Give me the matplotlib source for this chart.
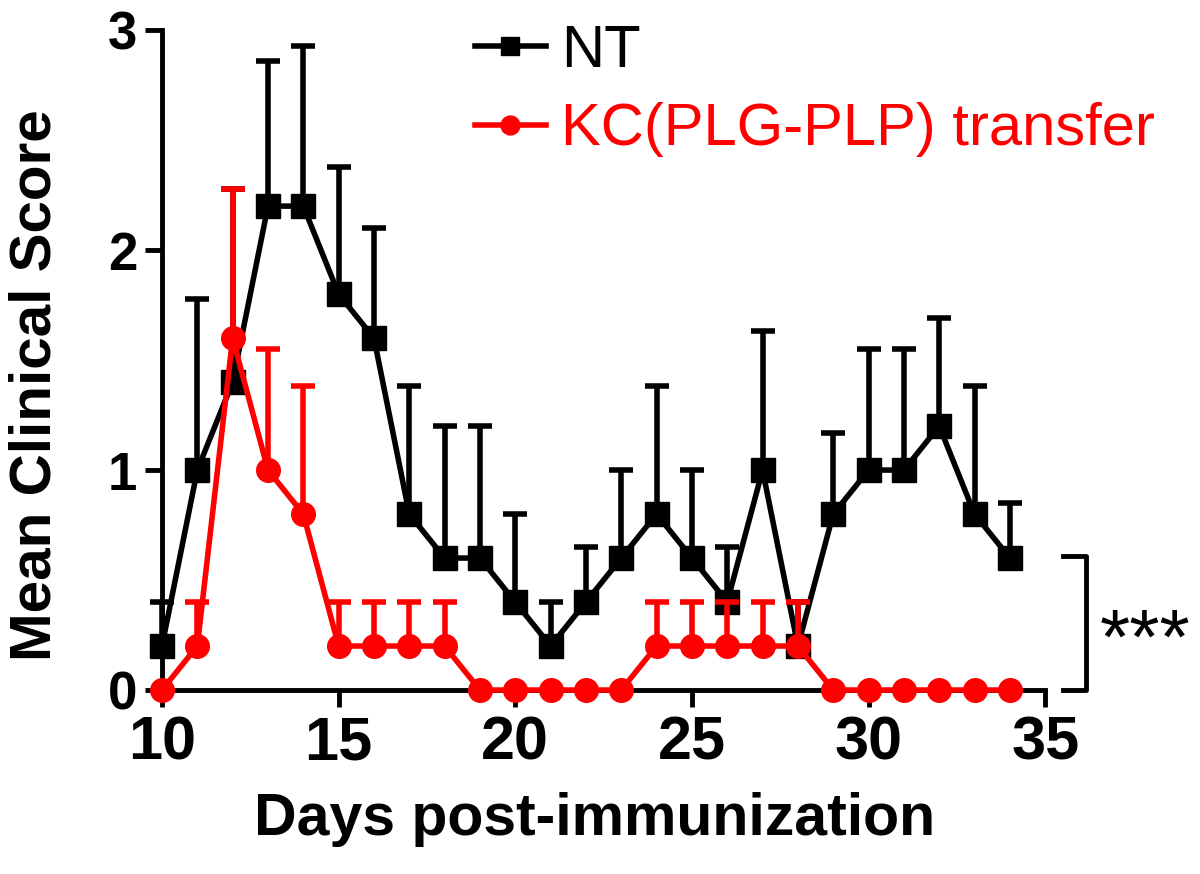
import matplotlib.pyplot as plt
import numpy as np

plt.rcParams['font.family'] = ['Liberation Sans', 'DejaVu Sans']

days = list(range(10, 35))

# NT group (mean and upper error)
nt_mean = [0.2, 1.0, 1.4, 2.2, 2.2, 1.8, 1.6, 0.8, 0.6, 0.6, 0.4, 0.2, 0.4,
           0.6, 0.8, 0.6, 0.4, 1.0, 0.2, 0.8, 1.0, 1.0, 1.2, 0.8, 0.6]
nt_err = [0.2, 0.78, 0.88, 0.66, 0.73, 0.58, 0.5, 0.58, 0.6, 0.6, 0.4, 0.2, 0.25,
          0.4, 0.58, 0.4, 0.25, 0.63, 0.2, 0.37, 0.55, 0.55, 0.49, 0.58, 0.25]

# KC(PLG-PLP) transfer group
kc_mean = [0, 0.2, 1.6, 1.0, 0.8, 0.2, 0.2, 0.2, 0.2, 0, 0, 0, 0,
           0, 0.2, 0.2, 0.2, 0.2, 0.2, 0, 0, 0, 0, 0, 0]
kc_err = [0, 0.2, 0.68, 0.55, 0.58, 0.2, 0.2, 0.2, 0.2, 0, 0, 0, 0,
          0, 0.2, 0.2, 0.2, 0.2, 0.2, 0, 0, 0, 0, 0, 0]

fig = plt.figure(figsize=(12, 8.74), dpi=100)
ax = fig.add_axes([0.135, 0.2105, 0.736, 0.755])


def draw_group(mean, err, color, marker, z):
    x = np.array(days)
    m = np.array(mean)
    e = np.array(err)
    keep = e > 0  # no bar where SEM is zero
    eb = ax.errorbar(x[keep], m[keep], yerr=[np.zeros(keep.sum()), e[keep]],
                     fmt='none', ecolor=color, elinewidth=4, capsize=8.5,
                     capthick=4, clip_on=False, zorder=z)
    eb[1][0].set_visible(False)  # upper bars only
    line, = ax.plot(x, m, color=color, lw=4, marker=marker, ms=17,
                    clip_on=False, zorder=z + 0.5)
    return line


nt_line = draw_group(nt_mean, nt_err, 'black', 's', 3)
kc_line = draw_group(kc_mean, kc_err, '#ff0000', 'o', 4)

ax.set_xlim(10, 35)
ax.set_ylim(0, 3)
ax.set_xticks([10, 15, 20, 25, 30, 35])
ax.set_yticks([0, 1, 2, 3])
ax.spines['top'].set_visible(False)
ax.spines['right'].set_visible(False)
ax.spines['left'].set_linewidth(3.5)
ax.spines['bottom'].set_linewidth(3.5)
ax.tick_params(width=3.5, length=12)
ax.tick_params(axis='x', labelsize=44, pad=6)
ax.tick_params(axis='y', labelsize=38, pad=6)
for lab in ax.get_xticklabels() + ax.get_yticklabels():
    lab.set_fontweight('bold')

ax.set_xlabel('Days post-immunization', fontsize=42.5, fontweight='bold')
ax.set_ylabel('Mean Clinical Score', fontsize=42, fontweight='bold')
ax.xaxis.set_label_coords(0.49, -0.155)
ax.yaxis.set_label_coords(-0.113, 0.462)

leg = ax.legend([nt_line, kc_line], ['NT', 'KC(PLG-PLP) transfer'],
                loc='upper left', bbox_to_anchor=(0.354, 1.01), frameon=False,
                borderpad=0, borderaxespad=0, fontsize=43, handlelength=1.2,
                labelspacing=0.4, handletextpad=0.25, markerscale=0.8)
for t, c in zip(leg.get_texts(), ['black', '#ff0000']):
    t.set_color(c)

# significance bracket
ax.plot([35.5, 36.15, 36.15, 35.5], [0.61, 0.61, 0.0, 0.0], color='black', lw=3.5,
        clip_on=False)
ax.text(36.55, 0.12, '***', fontsize=56, va='baseline', ha='left', clip_on=False)

fig.savefig('out.png', dpi=100)
